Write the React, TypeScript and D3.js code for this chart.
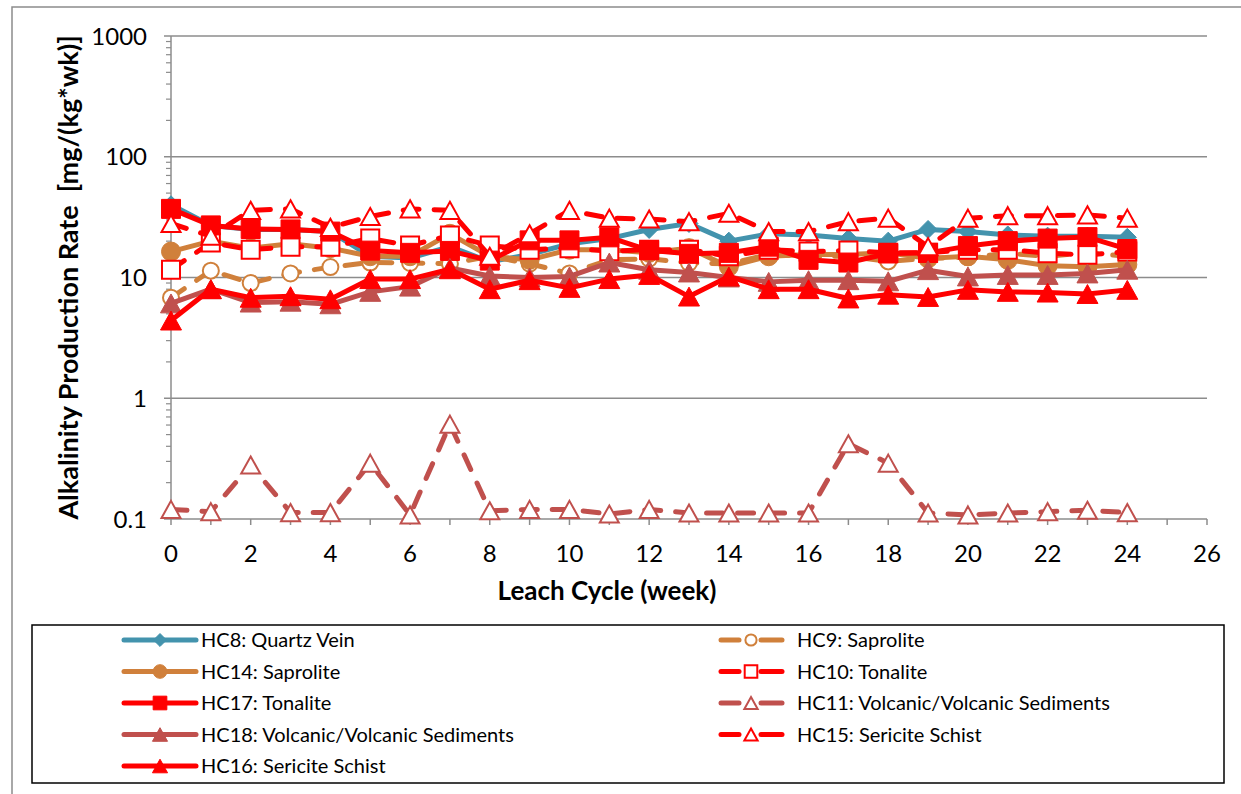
import React from 'react';
import * as d3 from 'd3';

const weeks = [0, 1, 2, 3, 4, 5, 6, 7, 8, 9, 10, 11, 12, 13, 14, 15, 16, 17, 18, 19, 20, 21, 22, 23, 24];

const hc8 = [40, 27, 25, 25, 24, 15, 14.5, 18, 13.5, 15.5, 19, 21, 25, 28, 20, 23, 22.5, 21, 20, 25, 24, 22.5, 22, 22, 21.5];
const hc9 = [6.8, 11.4, 9.0, 10.8, 12.2, 13.3, 13.2, 13, 15, 13, 10.8, 14, 14.3, 13.2, 13, 15.5, 15, 15, 13.6, 14.4, 14.7, 15.8, 15, 16, 15];
const hc14 = [16.4, 20, 17.5, 19, 17.5, 15, 15, 23, 15, 14, 17, 17, 16, 17.5, 12.3, 15, 15.5, 15.5, 16, 14.4, 15, 14, 12.5, 12.3, 12.8];
const hc10 = [11.6, 19.5, 17, 18, 18, 21, 18.4, 22.3, 18.4, 17, 17.5, 16.5, 17, 17, 15, 17, 16.4, 16.7, 16, 16, 17, 17, 15.9, 15.4, 16.4];
const hc17 = [37, 27, 25.2, 25, 24, 16.7, 16, 16.6, 13.8, 20.3, 20.3, 21.5, 16.8, 15.7, 16, 18, 14, 13.3, 15.8, 16, 18.2, 20, 21, 21.6, 17.2];
const hc11 = [0.12, 0.115, 0.28, 0.113, 0.113, 0.29, 0.108, 0.61, 0.117, 0.12, 0.12, 0.11, 0.12, 0.112, 0.112, 0.112, 0.112, 0.42, 0.29, 0.112, 0.108, 0.112, 0.115, 0.118, 0.113];
const hc18 = [6.1, 8, 6.2, 6.3, 6.0, 7.6, 8.4, 12, 10.3, 10, 10.2, 13.3, 11.6, 11, 10, 9.2, 9.5, 9.5, 9.3, 11.5, 10.2, 10.5, 10.5, 10.8, 11.6];
const hc15 = [28, 22, 36, 37, 26, 32, 37, 36, 15, 23, 36, 31, 30.5, 29, 34, 24, 24, 29, 31, 18, 31, 32.5, 32.5, 33, 31];
const hc16 = [4.4, 8, 6.8, 7.0, 6.6, 9.7, 9.7, 11.7, 8, 9.5, 8.2, 9.7, 10.5, 6.95, 10.2, 8, 8, 6.7, 7.2, 6.9, 7.9, 7.6, 7.5, 7.3, 7.9];

const xTicks = [0, 2, 4, 6, 8, 10, 12, 14, 16, 18, 20, 22, 24, 26];
const yTicks = [0.1, 1, 10, 100, 1000];
const yTickLabels = ['0.1', '1', '10', '100', '1000'];

const TEAL = '#4393AD';
const ORANGE = '#D0803B';
const BRICK = '#C0504D';
const RED = '#FF0000';

type Marker = 'diamond' | 'circle' | 'square' | 'triangle';
interface Series {
  name: string;
  values: number[];
  color: string;
  dashed: boolean;
  marker: Marker;
  open: boolean;
}

// drawing order (Excel series order)
const series: Series[] = [
  { name: 'HC8: Quartz Vein', values: hc8, color: TEAL, dashed: false, marker: 'diamond', open: false },
  { name: 'HC9: Saprolite', values: hc9, color: ORANGE, dashed: true, marker: 'circle', open: true },
  { name: 'HC14: Saprolite', values: hc14, color: ORANGE, dashed: false, marker: 'circle', open: false },
  { name: 'HC10: Tonalite', values: hc10, color: RED, dashed: true, marker: 'square', open: true },
  { name: 'HC17: Tonalite', values: hc17, color: RED, dashed: false, marker: 'square', open: false },
  { name: 'HC11: Volcanic/Volcanic Sediments', values: hc11, color: BRICK, dashed: true, marker: 'triangle', open: true },
  { name: 'HC18: Volcanic/Volcanic Sediments', values: hc18, color: BRICK, dashed: false, marker: 'triangle', open: false },
  { name: 'HC15: Sericite Schist', values: hc15, color: RED, dashed: true, marker: 'triangle', open: true },
  { name: 'HC16: Sericite Schist', values: hc16, color: RED, dashed: false, marker: 'triangle', open: false },
];

const leftLegend = ['HC8: Quartz Vein', 'HC14: Saprolite', 'HC17: Tonalite', 'HC18: Volcanic/Volcanic Sediments', 'HC16: Sericite Schist'];
const rightLegend = ['HC9: Saprolite', 'HC10: Tonalite', 'HC11: Volcanic/Volcanic Sediments', 'HC15: Sericite Schist'];

const W = 1241;
const H = 794;
const PL = 171, PR = 1207, PT = 36, PB = 519;
const FONT = 'Lato, "Open Sans", sans-serif';

function markerPath(m: Marker, s: number): string {
  const h = s / 2;
  if (m === 'diamond') return `M0,${-h}L${h},0L0,${h}L${-h},0Z`;
  if (m === 'square') return `M${-h},${-h}H${h}V${h}H${-h}Z`;
  if (m === 'triangle') {
    const th = s * 0.9 / 2;
    return `M0,${-th}L${h},${th}L${-h},${th}Z`;
  }
  return d3.arc()({ innerRadius: 0, outerRadius: h, startAngle: 0, endAngle: Math.PI * 2 }) as string;
}

function markerSize(sr: Series, legend: boolean): number {
  let s: number;
  if (sr.open) {
    s = sr.marker === 'circle' ? 16 : sr.marker === 'square' ? 18 : 19;
  } else {
    s = sr.marker === 'square' ? 19 : sr.marker === 'triangle' ? 21 : sr.marker === 'diamond' ? 18 : 19;
  }
  if (legend) s = sr.open ? s * 0.7 : s * 0.72;
  return s;
}

function MarkerShape({ sr, x, y, legend }: { sr: Series; x: number; y: number; legend?: boolean }) {
  const s = markerSize(sr, !!legend);
  return (
    <path
      d={markerPath(sr.marker, s)}
      transform={`translate(${x},${y})`}
      fill={sr.open ? '#FFFFFF' : sr.color}
      stroke={sr.color}
      strokeWidth={sr.open ? 2 : 1}
    />
  );
}

export default function App() {
  const x = d3.scaleLinear().domain([0, 26]).range([PL, PR]);
  const y = d3.scaleLog().domain([0.1, 1000]).range([PB, PT]);

  const line = (vals: number[]) =>
    d3.line<number>().x((_, i) => x(weeks[i])).y((v) => y(v))(vals) as string;

  const minorY: number[] = [];
  [0.1, 1, 10, 100].forEach((d) => {
    for (let k = 2; k <= 9; k++) minorY.push(d * k);
  });
  const xTickAll = d3.range(0, 27);

  const rowY = [640, 671.5, 703, 734.5, 766];

  const legendItem = (name: string, i: number, col: number) => {
    const sr = series.find((s) => s.name === name)!;
    const cy = rowY[i];
    if (col === 0) {
      const x0 = 124, x1 = 196, xm = 160;
      return (
        <g key={name}>
          <line x1={x0} x2={x1} y1={cy} y2={cy} stroke={sr.color} strokeWidth={5} strokeLinecap="round" />
          <MarkerShape sr={sr} x={xm} y={cy} legend />
          <text x={201} y={cy} dy="0.35em" fontSize={20} fontFamily={FONT} fill="#000">{name}</text>
        </g>
      );
    }
    const x0 = 721, x1 = 782, xm = 751;
    return (
      <g key={name}>
        <line x1={x0} x2={x0 + 18} y1={cy} y2={cy} stroke={sr.color} strokeWidth={5} strokeLinecap="round" />
        <line x1={xm + 10} x2={x1} y1={cy} y2={cy} stroke={sr.color} strokeWidth={5} strokeLinecap="round" />
        <MarkerShape sr={sr} x={xm} y={cy} legend />
        <text x={797} y={cy} dy="0.35em" fontSize={20} fontFamily={FONT} fill="#000">{name}</text>
      </g>
    );
  };

  return (
    <svg width={W} height={H} style={{ position: 'absolute', left: 0, top: 0, display: 'block', background: '#fff' }}>
      <rect x={0} y={0} width={W} height={H} fill="#fff" />
      {/* outer chart border */}
      <path d={`M12,${H}V7H${W}`} fill="none" stroke="#8C8C8C" strokeWidth={1.5} />

      {/* gridlines */}
      {yTicks.slice(1).map((t) => (
        <line key={t} x1={PL} x2={PR} y1={y(t)} y2={y(t)} stroke="#8C8C8C" strokeWidth={1.5} />
      ))}

      {/* y axis */}
      <line x1={PL} x2={PL} y1={PT} y2={PB} stroke="#8C8C8C" strokeWidth={1.5} />
      {minorY.map((t) => (
        <line key={'m' + t} x1={PL - 5} x2={PL} y1={y(t)} y2={y(t)} stroke="#8C8C8C" strokeWidth={1.2} />
      ))}
      {yTicks.map((t) => (
        <line key={'M' + t} x1={PL - 7} x2={PL} y1={y(t)} y2={y(t)} stroke="#8C8C8C" strokeWidth={1.5} />
      ))}
      {yTicks.map((t, i) => (
        <text key={'l' + t} x={147} y={y(t)} dy="0.36em" textAnchor="end" fontSize={24} fontFamily={FONT} fill="#000">
          {yTickLabels[i]}
        </text>
      ))}

      {/* x axis */}
      <line x1={PL} x2={PR} y1={PB} y2={PB} stroke="#8C8C8C" strokeWidth={1.5} />
      {xTickAll.map((t) => (
        <line key={'xt' + t} x1={x(t)} x2={x(t)} y1={PB} y2={PB + 6} stroke="#8C8C8C" strokeWidth={1.5} />
      ))}
      {xTicks.map((t) => (
        <text key={'xl' + t} x={x(t)} y={562} textAnchor="middle" fontSize={24} fontFamily={FONT} fill="#000">
          {t}
        </text>
      ))}

      {/* axis titles */}
      <text x={607} y={600} textAnchor="middle" fontSize={26} fontWeight="bold" fontFamily={FONT} fill="#000">
        Leach Cycle (week)
      </text>
      <text
        transform={`translate(78,${(PT + PB) / 2}) rotate(-90)`}
        textAnchor="middle"
        fontSize={27}
        fontWeight="bold"
        fontFamily={FONT}
        fill="#000"
        style={{ whiteSpace: 'pre' }}
      >
        {'Alkalinity Production Rate  [mg/(kg*wk)]'}
      </text>

      {/* series */}
      {series.map((sr) => (
        <g key={sr.name}>
          <path
            d={line(sr.values)}
            fill="none"
            stroke={sr.color}
            strokeWidth={5}
            strokeLinejoin="round"
            strokeLinecap="round"
            strokeDasharray={sr.dashed ? '16 15' : undefined}
          />
          {sr.values.map((v, i) => (
            <MarkerShape key={i} sr={sr} x={x(weeks[i])} y={y(v)} />
          ))}
        </g>
      ))}

      {/* legend */}
      <rect x={32} y={625} width={1192} height={158} fill="#fff" stroke="#000" strokeWidth={1.5} />
      {leftLegend.map((n, i) => legendItem(n, i, 0))}
      {rightLegend.map((n, i) => legendItem(n, i, 1))}
    </svg>
  );
}
